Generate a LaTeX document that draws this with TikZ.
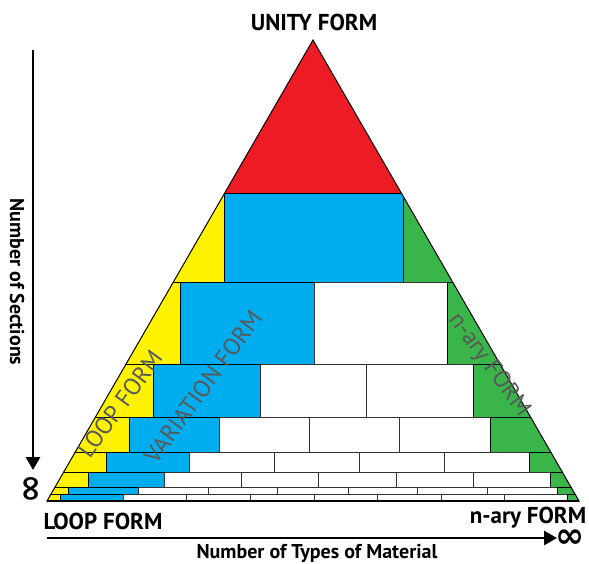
\documentclass[tikz,border=0pt]{standalone}
\usepackage{fontspec}
\setmainfont{PT Sans}
\newfontfamily\symfont{DejaVu Sans}
\usetikzlibrary{arrows.meta}
\definecolor{cred}{HTML}{ED1C24}
\definecolor{cblue}{HTML}{00AEEF}
\definecolor{cyel}{HTML}{FFF200}
\definecolor{cgreen}{HTML}{39B54A}
\definecolor{ctext}{HTML}{58595B}
\tikzset{
  cell/.style={draw=black, line width=0.9pt},
  ycell/.style={cell, fill=cyel},
  bcell/.style={cell, fill=cblue},
  gcell/.style={cell, fill=cgreen},
  wcell/.style={draw=black!80, line width=0.9pt, fill=white},
  title/.style={font=\bfseries\fontsize{23}{23}\selectfont, inner sep=0pt},
  corner/.style={font=\bfseries\fontsize{23}{23}\selectfont, inner sep=0pt},
  axislabel/.style={font=\bfseries\fontsize{20}{20}\selectfont, inner sep=0pt},
  formlabel/.style={font=\fontsize{24}{24}\selectfont, text=ctext, inner sep=0pt},
  infsym/.style={font=\symfont\bfseries\fontsize{35}{35}\selectfont, inner sep=0pt},
  axisarrow/.style={line width=2.8pt, -{Triangle[length=13pt,width=14pt]}},
}
\begin{document}
\begin{tikzpicture}[x=1pt,y=-1pt]
\useasboundingbox (0,0) rectangle (589,563);
\coordinate (apex) at (313,40);
\coordinate (bl) at (47,501);
\coordinate (br) at (579,501);
\begin{scope}
\clip (apex) -- (bl) -- (br) -- cycle;
\fill[cred] (0,30) rectangle (600,193);
% row 1
\draw[ycell] (0,193) rectangle (224,282);
\draw[bcell] (224,193) rectangle (403,282);
\draw[gcell] (403,193) rectangle (600,282);
% row 2
\draw[ycell] (0,282) rectangle (180,364);
\draw[bcell] (180,282) rectangle (314,364);
\draw[wcell] (314,282) rectangle (447,364);
\draw[gcell] (447,282) rectangle (600,364);
% row 3
\draw[ycell] (0,364) rectangle (153,417);
\draw[bcell] (153,364) rectangle (260,417);
\foreach \a/\b in {260/366,366/473} \draw[wcell] (\a,364) rectangle (\b,417);
\draw[gcell] (473,364) rectangle (600,417);
% row 4
\draw[ycell] (0,417) rectangle (129,452);
\draw[bcell] (129,417) rectangle (219,452);
\foreach \a/\b in {219/309,309/399,399/490} \draw[wcell] (\a,417) rectangle (\b,452);
\draw[gcell] (490,417) rectangle (600,452);
% row 5
\draw[ycell] (0,452) rectangle (106,472);
\draw[bcell] (106,452) rectangle (189,472);
\foreach \a/\b in {189/274,274/359,359/444,444/529} \draw[wcell] (\a,452) rectangle (\b,472);
\draw[gcell] (529,452) rectangle (600,472);
% row 6
\draw[ycell] (0,472) rectangle (88,487);
\draw[bcell] (88,472) rectangle (164,487);
\foreach \a/\b in {164/241,241/318,318/396,396/473,473/550} \draw[wcell] (\a,472) rectangle (\b,487);
\draw[gcell] (550,472) rectangle (600,487);
% row 7
\draw[ycell] (0,487) rectangle (68,494);
\draw[bcell] (68,487) rectangle (138,494);
\foreach \a/\b in {138/208,208/277,277/348,348/417,417/487,487/557} \draw[wcell] (\a,487) rectangle (\b,494);
\draw[gcell] (557,487) rectangle (600,494);
% row 8
\draw[ycell] (0,494) rectangle (60,501);
\draw[bcell] (60,494) rectangle (123,501);
\foreach \a/\b in {123/186,186/250,250/314,314/377,377/441,441/504,504/567} \draw[wcell] (\a,494) rectangle (\b,501);
\draw[gcell] (567,494) rectangle (600,501);
\end{scope}
\draw[line width=1pt, line join=miter] (apex) -- (bl) -- (br) -- cycle;
\draw[line width=2pt] (bl) -- (br);
% rotated form labels
\node[formlabel, rotate=54] (loopform) at (120,404) {LOOP FORM};
\node[formlabel, rotate=54] (varform) at (203,387) {VARIATION FORM};
\node[formlabel, rotate=-54] (naryform) at (489,365) {n-ary FORM};
% titles
\node[title] (unity) at (314,22) {UNITY FORM};
\node[corner] (loopc) at (103,521) {LOOP FORM};
\node[corner] (naryc) at (528,518) {n-ary FORM};
% horizontal axis
\coordinate (hstart) at (47,538);
\coordinate (hend) at (557,538);
\draw[axisarrow] (hstart) -- (hend);
\node[infsym, anchor=west] (hinf) at (555,539) {∞};
\node[axislabel] (hlabel) at (317,553) {Number of Types of Material};
% vertical axis
\coordinate (vstart) at (33,50);
\coordinate (vend) at (33,470);
\draw[axisarrow] (vstart) -- (vend);
\node[infsym, rotate=90] (vinf) at (33,489) {∞};
\node[axislabel, rotate=-90] (vlabel) at (17,282) {Number of Sections};
\end{tikzpicture}
\end{document}
